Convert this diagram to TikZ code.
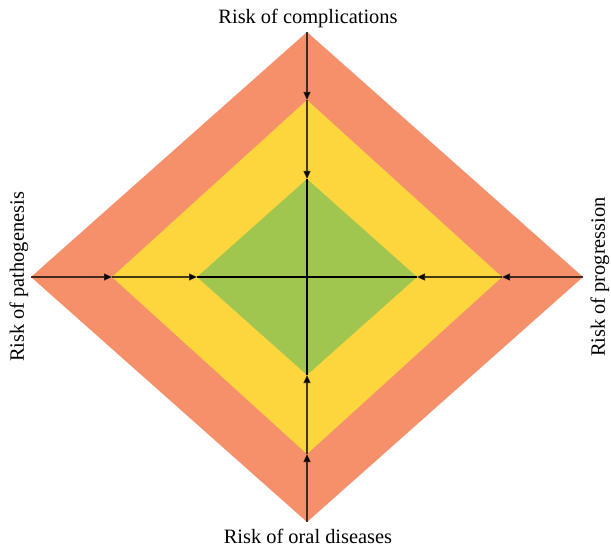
\documentclass[tikz,border=0pt]{standalone}
\usepackage{fontspec}
\setmainfont{Liberation Serif}
\usepackage{xcolor}
\usepackage{tikz}
\usetikzlibrary{arrows.meta,calc}

\definecolor{riskorange}{HTML}{F5906B}
\definecolor{riskyellow}{HTML}{FDD53D}
\definecolor{riskgreen}{HTML}{A1C650}

\tikzset{
  lbl/.style={font=\fontsize{20.4}{24}\selectfont, inner sep=0pt},
  arr/.style={-{Triangle[length=8pt,width=7pt]}, line width=1.1pt, draw=black, draw opacity=0.72},
  crossline/.style={line width=1.8pt, black}
}

\begin{document}
\begin{tikzpicture}[x=1pt,y=-1pt]
  \useasboundingbox (0,0) rectangle (611,548);
  \coordinate (c) at (307,277);
  \foreach \n/\w/\h in {o/276/245,y/195/177,g/110/98}{
    \coordinate (\n t) at ($(c)+(0,-\h)$);
    \coordinate (\n b) at ($(c)+(0,\h)$);
    \coordinate (\n l) at ($(c)+(-\w,0)$);
    \coordinate (\n r) at ($(c)+(\w,0)$);
  }
  \fill[riskorange] (ot)--(or)--(ob)--(ol)--cycle;
  \fill[riskyellow] (yt)--(yr)--(yb)--(yl)--cycle;
  \fill[riskgreen] (gt)--(gr)--(gb)--(gl)--cycle;
  \foreach \d in {t,b,l,r}{
    \draw[arr] (o\d) -- (y\d);
    \draw[arr] (y\d) -- (g\d);
  }
  \draw[crossline] (gt) -- (gb);
  \draw[crossline] (gl) -- (gr);
  \node[lbl] (comp) at (308,18) {Risk of complications};
  \node[lbl] (oral) at (308,536) {Risk of oral diseases};
  \node[lbl, rotate=90] (path) at (19,277) {Risk of pathogenesis};
  \node[lbl, rotate=90] (prog) at (600,277) {Risk of progression};
\end{tikzpicture}
\end{document}
